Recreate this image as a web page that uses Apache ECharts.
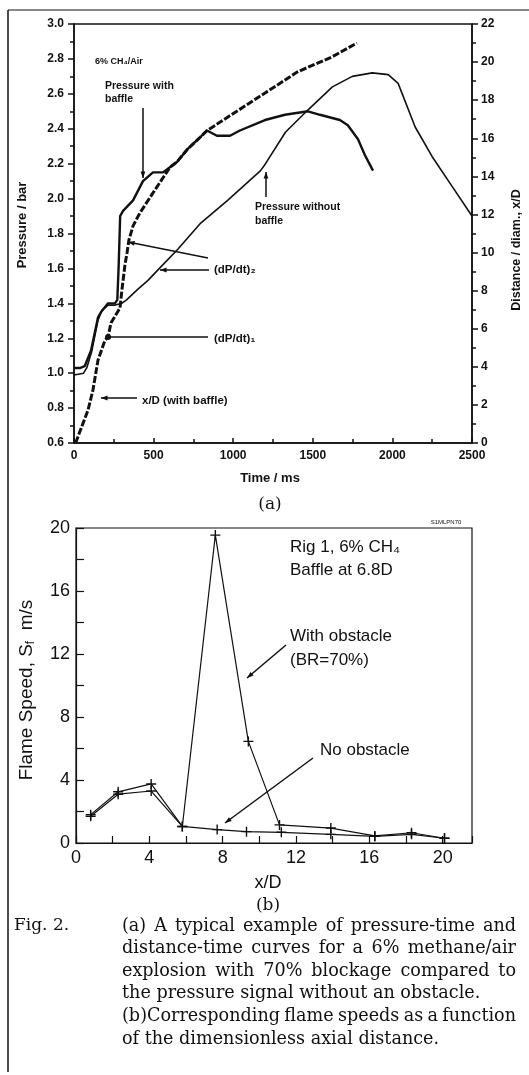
<!DOCTYPE html>
<html>
<head>
<meta charset="utf-8">
<script src="https://cdn.jsdelivr.net/npm/echarts@6/dist/echarts.min.js"></script>
<style>
  html, body { margin: 0; padding: 0; background: #fff; }
  #chart { width: 529px; height: 1075px; }
</style>
</head>
<body>
<div id="chart"></div>
<script>
// (a) pressure / distance vs time
const timeBaffle = [0, 40, 67, 107, 151, 170, 214, 257, 272, 280, 290, 308, 371, 433, 496, 559, 603, 647, 710, 791, 835, 898, 980, 1042, 1200, 1325, 1470, 1545, 1670, 1720, 1784, 1827, 1878]
const pressBaffle = [1.03, 1.03, 1.04, 1.13, 1.32, 1.35, 1.40, 1.40, 1.42, 1.60, 1.90, 1.93, 1.99, 2.10, 2.15, 2.15, 2.18, 2.21, 2.28, 2.35, 2.39, 2.36, 2.36, 2.39, 2.45, 2.48, 2.50, 2.48, 2.45, 2.42, 2.34, 2.25, 2.16]
const timeNoBaffle = [0, 60, 80, 110, 150, 175, 215, 260, 300, 330, 400, 463, 526, 652, 796, 965, 1172, 1203, 1328, 1472, 1623, 1748, 1873, 1974, 2036, 2143, 2250, 2375, 2500]
const pressNoBaffle = [0.99, 1.00, 1.03, 1.12, 1.30, 1.36, 1.39, 1.39, 1.40, 1.42, 1.48, 1.53, 1.59, 1.71, 1.86, 1.99, 2.16, 2.20, 2.38, 2.51, 2.64, 2.70, 2.72, 2.71, 2.66, 2.41, 2.24, 2.07, 1.90]
const timeXD = [10, 88, 119, 151, 195, 214, 232, 289, 301, 320, 333, 345, 371, 414, 496, 603, 647, 710, 791, 835, 1200, 1407, 1620, 1777]
const distXD = [0, 1.73, 2.78, 4.36, 5.41, 5.57, 6.30, 7.09, 8.03, 9.35, 9.98, 10.66, 11.4, 12.08, 13.13, 14.48, 14.76, 15.4, 16.04, 16.4, 18.38, 19.5, 20.27, 21.0]

// (b) flame speed vs x/D
const xdWith = [0.8, 2.3, 4.1, 5.8, 7.6, 9.4, 11.1, 13.9, 16.3, 18.3, 20.1]
const speedWith = [1.8, 3.25, 3.75, 1.05, 19.55, 6.45, 1.15, 0.95, 0.45, 0.65, 0.3]
const xdNo = [0.8, 2.3, 4.1, 5.8, 7.7, 9.3, 11.2, 13.9, 16.3, 18.3, 20.1]
const speedNo = [1.7, 3.1, 3.3, 1.05, 0.85, 0.72, 0.68, 0.55, 0.42, 0.55, 0.3]

const caption = [
    '(a) A typical example of pressure-time and',
    'distance-time curves for a 6% methane/air',
    'explosion with 70% blockage compared to',
    'the pressure signal without an obstacle.',
    '(b)Corresponding flame speeds as a function',
    'of the dimensionless axial distance.'
]
// 段落末行不两端对齐
const captionLastLines = [3, 5]

const pair = (xs, ys) => xs.map((x, i) => [x, ys[i]])
const INK = '#111'
const boldFont = 'Liberation Sans'
const thinFont = 'Liberation Sans'
const capFont = '17.6px "DejaVu Serif"'

// 文字
const txt = (x, y, text, size, opts = {}) => ({
    type: 'text', x, y, rotation: opts.rotation || 0,
    style: {
        text, fill: INK,
        font: (opts.weight || 'normal') + ' ' + size + 'px "' + (opts.family || boldFont) + '"',
        textAlign: opts.align || 'left', textVerticalAlign: 'middle'
    }
})
// 箭头
const arrow = (x1, y1, x2, y2, w = 1.5, head = 7) => {
    const a = Math.atan2(y2 - y1, x2 - x1)
    const h1 = [x2 - head * Math.cos(a - 0.35), y2 - head * Math.sin(a - 0.35)]
    const h2 = [x2 - head * Math.cos(a + 0.35), y2 - head * Math.sin(a + 0.35)]
    return [
        { type: 'line', shape: { x1, y1, x2, y2 }, style: { stroke: INK, lineWidth: w } },
        { type: 'polygon', shape: { points: [[x2, y2], h1, h2] }, style: { fill: INK } }
    ]
}
const line = (x1, y1, x2, y2, w = 1.5) => ({ type: 'line', shape: { x1, y1, x2, y2 }, style: { stroke: INK, lineWidth: w } })

// 两端对齐的图注
const ctx = document.createElement('canvas').getContext('2d')
ctx.font = capFont
const justify = (s, x0, x1, y, last) => {
    const words = s.split(' ')
    if (last) return [{ type: 'text', x: x0, y, style: { text: s, font: capFont, fill: INK, textVerticalAlign: 'middle' } }]
    const widths = words.map(w => ctx.measureText(w).width)
    const gap = (x1 - x0 - widths.reduce((a, b) => a + b, 0)) / (words.length - 1)
    let x = x0
    return words.map((w, i) => {
        const el = { type: 'text', x, y, style: { text: w, font: capFont, fill: INK, textVerticalAlign: 'middle' } }
        x += widths[i] + gap
        return el
    })
}

const crossSymbol = 'path://M4.3,0H5.7V4.3H10V5.7H5.7V10H4.3V5.7H0V4.3H4.3Z'

const myChart = echarts.init(document.getElementById('chart'), null, { renderer: 'canvas' })

const graphic = [
    line(8, 10, 529, 10, 1.2),
    line(8, 10, 8, 1072, 1.5),
    // (a)
    txt(95, 62, '6% CH₄/Air', 9, { weight: 'bold' }),
    txt(105, 86, 'Pressure with', 10.5, { weight: 'bold' }),
    txt(105, 99, 'baffle', 10.5, { weight: 'bold' }),
    ...arrow(143, 108, 143, 178),
    txt(255, 207, 'Pressure without', 10.5, { weight: 'bold' }),
    txt(255, 221, 'baffle', 10.5, { weight: 'bold' }),
    ...arrow(266, 197, 266, 172),
    txt(214, 270, '(dP/dt)₂', 11.5, { weight: 'bold' }),
    ...arrow(209, 270, 160, 270),
    ...arrow(208, 258, 128, 242),
    txt(214, 339, '(dP/dt)₁', 11.5, { weight: 'bold' }),
    line(208, 337, 108, 337),
    txt(142, 401, 'x/D (with baffle)', 11.5, { weight: 'bold' }),
    ...arrow(137, 398, 101, 398),
    txt(22, 225, 'Pressure / bar', 13, { weight: 'bold', align: 'center', rotation: Math.PI / 2 }),
    txt(517, 250, 'Distance / diam., x/D', 12.5, { weight: 'bold', align: 'center', rotation: Math.PI / 2 }),
    txt(270, 478, 'Time / ms', 13, { weight: 'bold', align: 'center' }),
    txt(270, 505, '(a)', 17, { family: 'DejaVu Serif', align: 'center' }),
    // (b)
    txt(446, 522, 'S1MLPN70', 6, { align: 'center' }),
    txt(290, 547, 'Rig 1, 6% CH₄', 17, { family: thinFont }),
    txt(290, 570, 'Baffle at 6.8D', 17, { family: thinFont }),
    txt(290, 636, 'With obstacle', 17, { family: thinFont }),
    txt(290, 660, '(BR=70%)', 17, { family: thinFont }),
    ...arrow(286, 645, 247, 678),
    txt(320, 750, 'No obstacle', 17, { family: thinFont }),
    ...arrow(313, 758, 225, 823),
    {
        type: 'text', x: 27, y: 690, rotation: Math.PI / 2,
        style: {
            text: '{a|Flame Speed, S}{s|f}{a|  m/s}',
            textAlign: 'center', textVerticalAlign: 'middle',
            rich: {
                a: { font: '19px "' + thinFont + '"', fill: INK },
                s: { font: '12px "' + thinFont + '"', fill: INK, padding: [8, 0, 0, 0] }
            }
        }
    },
    txt(268, 883, 'x/D', 18, { family: thinFont, align: 'center' }),
    txt(268, 906, '(b)', 17, { family: 'DejaVu Serif', align: 'center' }),
    // 图注
    txt(14, 926, 'Fig. 2.', 17, { family: 'DejaVu Serif' }),
    ...caption.flatMap((s, i) => justify(s, 122, 516, 926 + i * 22.6, captionLastLines.includes(i)))
]

const option = {
    animation: false,
    backgroundColor: '#fff',
    grid: [
        { left: 74, top: 24, width: 398, height: 419, show: true, borderColor: INK, borderWidth: 1.5 },
        { left: 76, top: 528, width: 396, height: 315, show: true, borderColor: INK, borderWidth: 1.2 }
    ],
    xAxis: [
        {
            gridIndex: 0, type: 'value', min: 0, max: 2500, interval: 500,
            axisLine: { lineStyle: { color: INK, width: 1.5 } },
            axisTick: { inside: true, length: 5, lineStyle: { color: INK, width: 1.5 } },
            minorTick: { show: true, splitNumber: 2, length: 4, lineStyle: { color: INK, width: 1.5 } },
            splitLine: { show: false },
            axisLabel: { color: INK, fontFamily: boldFont, fontWeight: 'bold', fontSize: 12, margin: 7, formatter: v => String(v) }
        },
        {
            gridIndex: 1, type: 'value', min: 0, max: 21.6, interval: 2,
            axisLine: { lineStyle: { color: INK, width: 1.2 } },
            axisTick: { inside: true, length: 7, lineStyle: { color: INK, width: 1.2 } },
            splitLine: { show: false },
            axisLabel: {
                color: INK, fontFamily: thinFont, fontSize: 18, margin: 6,
                formatter: v => (v % 4 === 0 ? String(v) : '')
            }
        }
    ],
    yAxis: [
        {
            gridIndex: 0, type: 'value', min: 0.6, max: 3.0, interval: 0.2,
            axisLine: { lineStyle: { color: INK, width: 1.5 } },
            axisTick: { inside: false, length: 6, lineStyle: { color: INK, width: 1.5 } },
            minorTick: { show: true, splitNumber: 2, length: 4, lineStyle: { color: INK, width: 1.5 } },
            splitLine: { show: false },
            axisLabel: { color: INK, fontFamily: boldFont, fontWeight: 'bold', fontSize: 12, margin: 10, formatter: v => v.toFixed(1) }
        },
        {
            gridIndex: 0, type: 'value', position: 'right', min: 0, max: 22, interval: 2,
            axisLine: { show: true, lineStyle: { color: INK, width: 1.5 } },
            axisTick: { show: true, inside: false, length: 6, lineStyle: { color: INK, width: 1.5 } },
            minorTick: { show: true, splitNumber: 2, length: 4, lineStyle: { color: INK, width: 1.5 } },
            splitLine: { show: false },
            axisLabel: { color: INK, fontFamily: boldFont, fontWeight: 'bold', fontSize: 12, margin: 9 }
        },
        {
            gridIndex: 1, type: 'value', min: 0, max: 20, interval: 2,
            axisLine: { lineStyle: { color: INK, width: 1.2 } },
            axisTick: { inside: true, length: 8, lineStyle: { color: INK, width: 1.2 } },
            splitLine: { show: false },
            axisLabel: {
                color: INK, fontFamily: thinFont, fontSize: 18, margin: 6,
                formatter: v => (v % 4 === 0 ? String(v) : '')
            }
        }
    ],
    series: [
        {
            name: 'Pressure with baffle', type: 'line', xAxisIndex: 0, yAxisIndex: 0,
            data: pair(timeBaffle, pressBaffle), showSymbol: false,
            lineStyle: { color: INK, width: 2.4 }
        },
        {
            name: 'Pressure without baffle', type: 'line', xAxisIndex: 0, yAxisIndex: 0,
            data: pair(timeNoBaffle, pressNoBaffle), showSymbol: false,
            lineStyle: { color: INK, width: 1.6 }
        },
        {
            name: 'x/D (with baffle)', type: 'line', xAxisIndex: 0, yAxisIndex: 1,
            data: pair(timeXD, distXD), showSymbol: false,
            lineStyle: { color: INK, width: 3, type: [7, 2] },
            markPoint: {
                symbol: 'circle', symbolSize: 6, itemStyle: { color: INK }, label: { show: false },
                data: [{ coord: [timeXD[5], distXD[5]] }]
            }
        },
        {
            name: 'With obstacle', type: 'line', xAxisIndex: 1, yAxisIndex: 2,
            data: pair(xdWith, speedWith), symbol: crossSymbol, symbolSize: 10,
            itemStyle: { color: INK }, lineStyle: { color: INK, width: 1.2 }
        },
        {
            name: 'No obstacle', type: 'line', xAxisIndex: 1, yAxisIndex: 2,
            data: pair(xdNo, speedNo), symbol: crossSymbol, symbolSize: 10,
            itemStyle: { color: INK }, lineStyle: { color: INK, width: 1.2 }
        }
    ],
    graphic: { elements: graphic }
}
myChart.setOption(option)
</script>
</body>
</html>
